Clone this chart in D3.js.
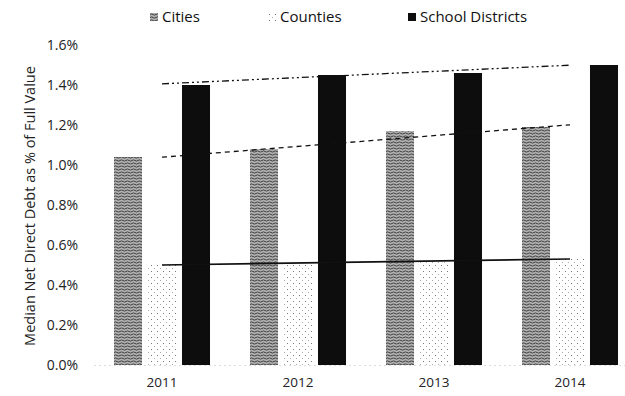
<!DOCTYPE html>
<html>
<head>
<meta charset="utf-8">
<script src="https://cdn.jsdelivr.net/npm/d3@7"></script>
<style>
  html, body { margin: 0; padding: 0; background: #fff; }
  svg { display: block; font-family: "Open Sans", "Noto Sans", sans-serif; }
</style>
</head>
<body>
<svg id="chart" width="625" height="396"></svg>
<script>
// Median net direct debt as a share of full value, by government type
const years = ["2011", "2012", "2013", "2014"];
const seriesNames = ["Cities", "Counties", "School Districts"];
const cities = [1.04, 1.08, 1.17, 1.19];
const counties = [0.50, 0.51, 0.52, 0.53];
const schoolDistricts = [1.40, 1.45, 1.46, 1.50];
const yTicks = [0, 0.2, 0.4, 0.6, 0.8, 1.0, 1.2, 1.4, 1.6];
const yTitle = "Median Net Direct Debt as % of Full Value";

const seriesValues = [cities, counties, schoolDistricts];

const svg = d3.select("#chart");
const defs = svg.append("defs");

// Cities: dense grey wavy texture
const pc = defs.append("pattern").attr("id", "pat-cities")
  .attr("patternUnits", "userSpaceOnUse").attr("width", 6).attr("height", 3);
pc.append("rect").attr("width", 6).attr("height", 3).attr("fill", "#b0b0b0");
pc.append("path").attr("d", "M0,1.5 Q1.5,0.3 3,1.5 T6,1.5")
  .attr("stroke", "#333").attr("stroke-width", 0.9).attr("fill", "none");

// Counties: sparse stipple on white
const pk = defs.append("pattern").attr("id", "pat-counties")
  .attr("patternUnits", "userSpaceOnUse").attr("width", 6).attr("height", 6);
pk.append("rect").attr("width", 6).attr("height", 6).attr("fill", "#fff");
pk.append("rect").attr("x", 1).attr("y", 1).attr("width", 1).attr("height", 1).attr("fill", "#777");
pk.append("rect").attr("x", 4).attr("y", 4).attr("width", 1).attr("height", 1).attr("fill", "#aaa");

const fills = ["url(#pat-cities)", "url(#pat-counties)", "#0d0d0d"];
const trendDash = ["5,4", null, "7,3,2,3,2,3"];

const y = d3.scaleLinear().domain([0, 1.6]).range([365, 45]);
const x = d3.scaleBand().domain(years).range([94, 638])
  .paddingInner(0.294).paddingOuter(0.147);
const xs = d3.scaleBand().domain(seriesNames).range([0, x.bandwidth()])
  .paddingInner(0.176).paddingOuter(0);

// y axis labels
const yAxis = svg.append("g").attr("transform", "translate(78,0)")
  .call(d3.axisLeft(y).tickValues(yTicks).tickSize(0).tickPadding(0)
    .tickFormat(d => d3.format(".1f")(d) + "%"));
yAxis.select(".domain").remove();
yAxis.selectAll("text").attr("font-size", 14).attr("fill", "#222")
  .attr("font-family", "\"Open Sans\", \"Noto Sans\", sans-serif");

svg.append("text")
  .attr("transform", "translate(35,206) rotate(-90)")
  .attr("text-anchor", "middle").attr("font-size", 14.5).attr("fill", "#222")
  .text(yTitle);

// x axis labels
const xAxis = svg.append("g").attr("transform", "translate(0,365)")
  .call(d3.axisBottom(x).tickSize(0).tickPadding(12));
xAxis.select(".domain").attr("stroke", "#bbb").attr("stroke-dasharray", "1,4");
xAxis.selectAll("text").attr("font-size", 13.5).attr("fill", "#222")
  .attr("font-family", "\"Open Sans\", \"Noto Sans\", sans-serif");

// bars
const groups = svg.append("g").selectAll("g").data(years).join("g")
  .attr("transform", d => `translate(${x(d)},0)`);
groups.selectAll("rect")
  .data((yr, i) => seriesNames.map((s, j) => ({ s, j, v: seriesValues[j][i] })))
  .join("rect")
  .attr("x", d => xs(d.s))
  .attr("width", xs.bandwidth())
  .attr("y", d => y(d.v))
  .attr("height", d => y(0) - y(d.v))
  .attr("fill", d => fills[d.j]);

// linear trend lines drawn across the category centres
function fit(vals) {
  const n = vals.length;
  const mx = (n - 1) / 2;
  const my = d3.mean(vals);
  let sxy = 0, sxx = 0;
  vals.forEach((v, i) => { sxy += (i - mx) * (v - my); sxx += (i - mx) * (i - mx); });
  const b = sxy / sxx;
  return i => my + b * (i - mx);
}
seriesValues.forEach((vals, j) => {
  const f = fit(vals);
  const last = years.length - 1;
  svg.append("line")
    .attr("x1", x(years[0]) + x.bandwidth() / 2)
    .attr("x2", x(years[last]) + x.bandwidth() / 2)
    .attr("y1", y(f(0)))
    .attr("y2", y(f(last)))
    .attr("stroke", "#111")
    .attr("stroke-width", j === 1 ? 1.6 : 1.3)
    .attr("stroke-dasharray", trendDash[j]);
});

// legend
const legendX = [150, 268, 408];
const legend = svg.append("g").selectAll("g").data(seriesNames).join("g")
  .attr("transform", (d, i) => `translate(${legendX[i]},13)`);
legend.append("rect").attr("width", 8).attr("height", 8)
  .attr("fill", (d, i) => fills[i]);
legend.append("text").attr("x", 12).attr("y", 9)
  .attr("font-size", 15).attr("fill", "#111").text(d => d);
</script>
</body>
</html>
